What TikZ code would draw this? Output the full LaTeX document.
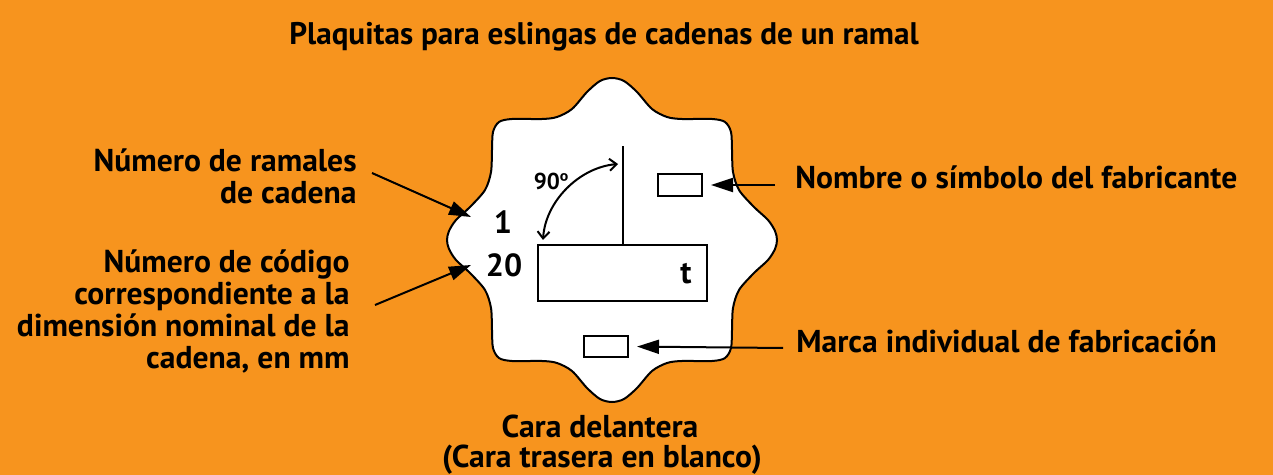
\documentclass[tikz,border=0pt]{standalone}
\usepackage{fontspec}
\setmainfont{PT Sans}
\newfontfamily\ordfont{Liberation Sans}
\usetikzlibrary{arrows.meta}
\definecolor{bgorange}{RGB}{247,148,30}
\begin{document}
\begin{tikzpicture}[x=0.5pt,y=-0.5pt,
  lbl/.style={inner sep=0pt, font=\fontsize{15.8}{16}\selectfont\bfseries},
  ttl/.style={inner sep=0pt, font=\fontsize{15.6}{16}\selectfont\bfseries},
  num/.style={inner sep=0pt, font=\fontsize{16}{16}\selectfont\bfseries},
  arr/.style={line width=1pt, -{Triangle[length=11pt,width=7pt]}},
  dbl/.style={line width=1pt, {Straight Barb[length=3.5pt,width=6pt]}-{Straight Barb[length=3.5pt,width=6pt]}},
  box/.style={draw, line width=1pt, fill=white, inner sep=0pt}
]
\fill[bgorange] (0,0) rectangle (1273,475);
\useasboundingbox (0,0) rectangle (1273,475);

% plate
\begin{scope}[shift={(612,240)}]
\draw[line width=1pt, fill=white] plot[smooth cycle, tension=0.5] coordinates {
 (0,-162) (12,-159) (25,-148) (40,-131) (55,-123) (70,-121) (100,-121) (113,-118) (119,-108) (120,-90) (121,-68) (127,-50) (142,-33) (156,-20) (163,-9) (165,0)
 (163,9) (156,20) (142,33) (127,50) (121,68) (120,90) (119,108) (113,118) (100,121) (70,121) (55,123) (40,131) (25,148) (12,159) (0,162)
 (-12,159) (-25,148) (-40,131) (-55,123) (-70,121) (-100,121) (-113,118) (-119,108) (-120,90) (-121,68) (-127,50) (-142,33) (-156,20) (-163,9) (-165,0)
 (-163,-9) (-156,-20) (-142,-33) (-127,-50) (-121,-68) (-120,-90) (-119,-108) (-113,-118) (-100,-121) (-70,-121) (-55,-123) (-40,-131) (-25,-148) (-12,-159)};
\end{scope}

% title
\node[ttl, anchor=base] (title) at (604,45) {Plaquitas para eslingas de cadenas de un ramal};

% inner items
\node[box, minimum width=84.5pt, minimum height=28pt] (big) at (622.5,273) {};
\node[num, anchor=base] (t) at (686,284) {t};
\coordinate (vtop) at (623,146);
\draw[line width=1pt] (big.north -| vtop) -- (vtop);
\coordinate (arcA) at (618,164);
\coordinate (arcB) at (543,240);
\draw[dbl] (arcA) .. controls (579.3,167.4) and (545.4,201.3) .. (arcB);
\node[inner sep=0pt, font=\fontsize{11.5}{13}\selectfont\bfseries] (ang) at (551,181) {90{\ordfont º}};
\node[num] (one) at (503,222) {1};
\node[num] (twenty) at (504,265) {20};
\node[box, minimum width=22pt, minimum height=11pt] (r1) at (680,185) {};
\node[box, minimum width=22pt, minimum height=10.5pt] (r2) at (606,346.5) {};

% left labels
\node[lbl, align=right, anchor=east] (L1) at (357,176) {Número de ramales\\de cadena};
\node[lbl, align=right, anchor=east] (L2) at (350,311) {Número de código\\correspondiente a la\\dimensión nominal de la\\cadena, en mm};
\coordinate (a1s) at (372,173);
\coordinate (a1e) at (471,217);
\coordinate (a2s) at (375,305);
\coordinate (a2e) at (471,265);
\draw[arr] (a1s) -- (a1e);
\draw[arr] (a2s) -- (a2e);

% right labels
\node[lbl, anchor=base west] (R1) at (795,189) {Nombre o símbolo del fabricante};
\node[lbl, anchor=base west] (R2) at (796,352) {Marca individual de fabricación};
\coordinate (b1s) at (775,185);
\coordinate (b2s) at (783,348);
\draw[arr, shorten >=4pt] (b1s) -- (r1.east);
\draw[arr, shorten >=4pt] (b2s) -- (r2.east);

% bottom
\node[lbl, anchor=base] (B1) at (600,437) {Cara delantera};
\node[lbl, anchor=base] (B2) at (602,467) {(Cara trasera en blanco)};
\end{tikzpicture}
\end{document}
